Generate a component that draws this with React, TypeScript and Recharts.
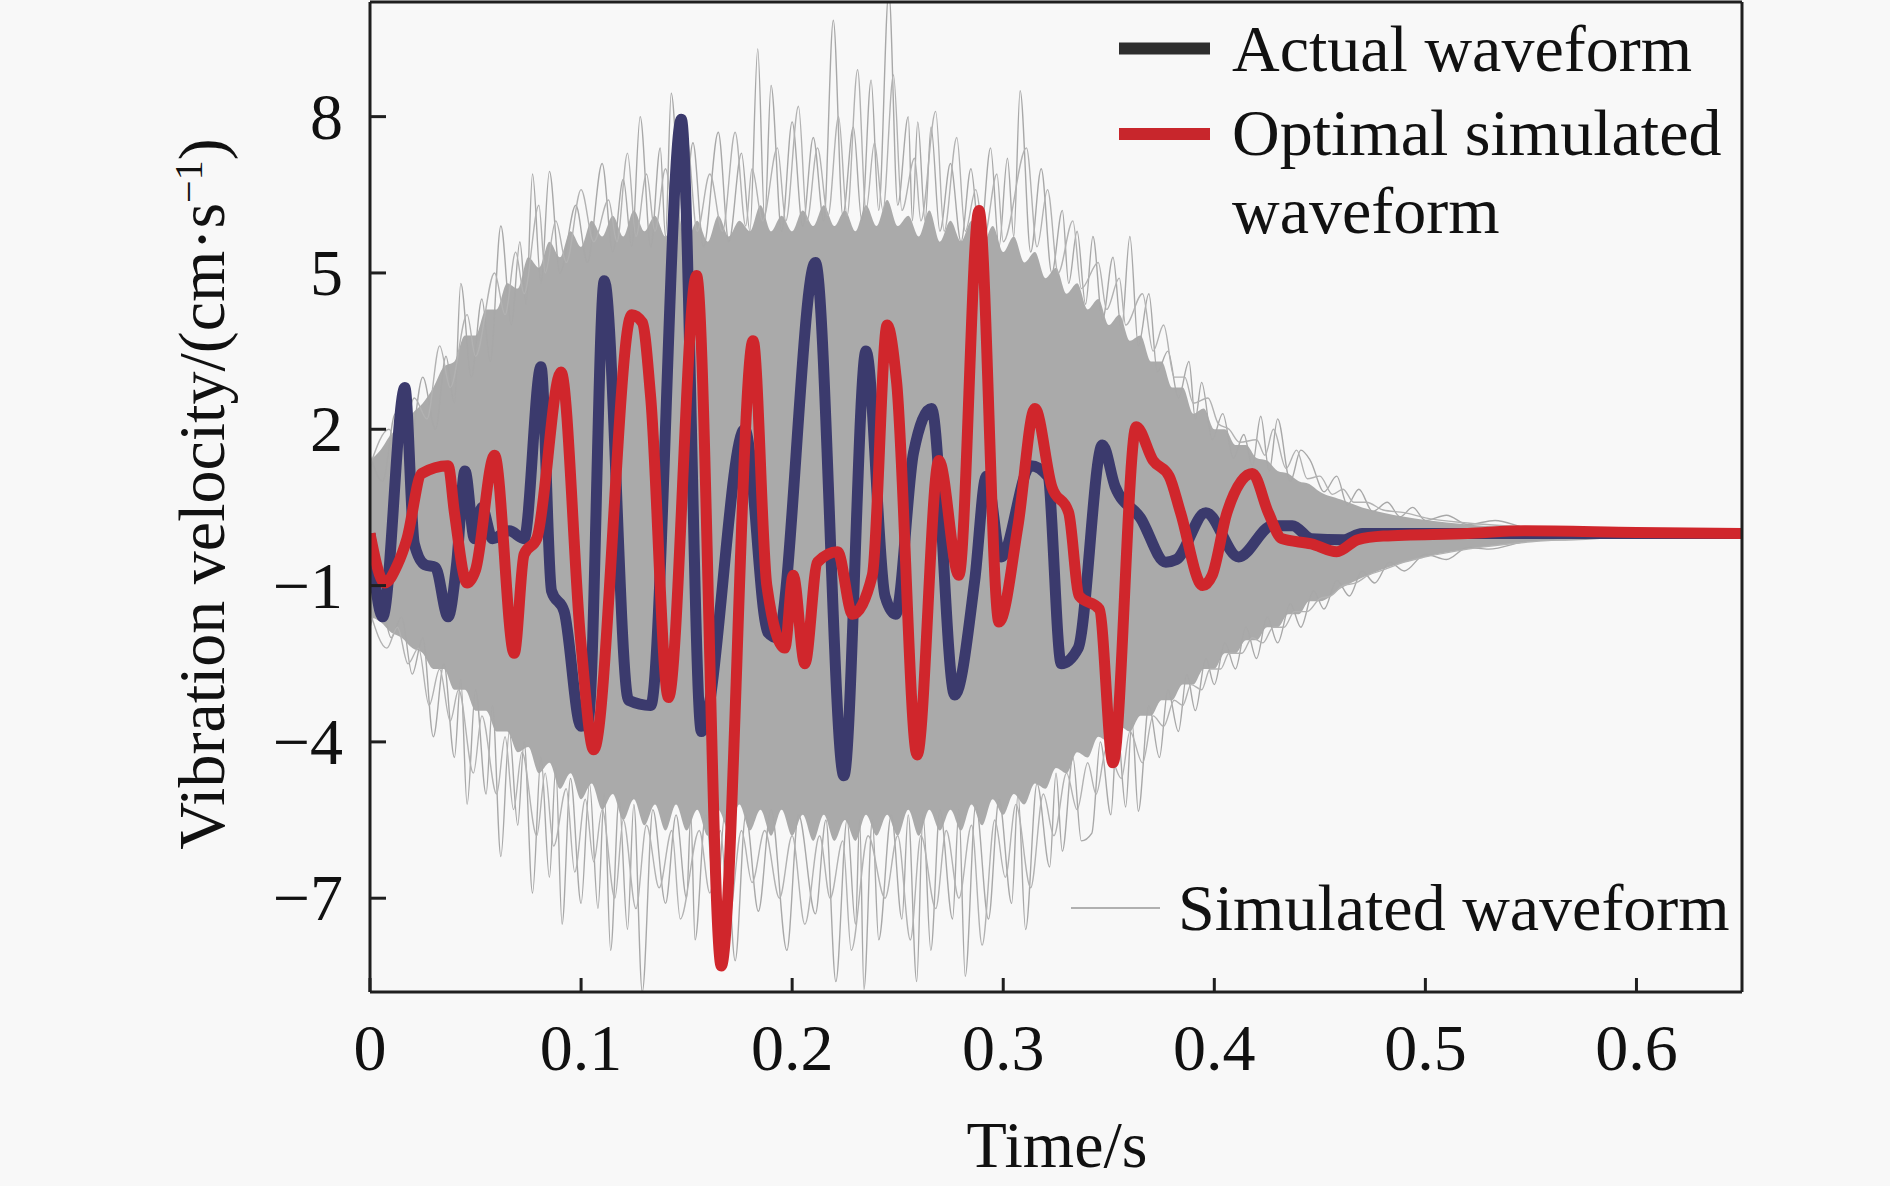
import React from 'react';
import { ComposedChart, Line, Area, XAxis, YAxis, ReferenceLine } from 'recharts';

const W = 1890;
const H = 1186;
const FONT = "'Liberation Serif', 'Times New Roman', serif";

// ---- axis ticks ----
const xTicks = [0, 0.1, 0.2, 0.3, 0.4, 0.5, 0.6];
const xTickLabels = ['0', '0.1', '0.2', '0.3', '0.4', '0.5', '0.6'];
const yTicks = [-7, -4, -1, 2, 5, 8];
const yTickLabels = ['\u22127', '\u22124', '\u22121', '2', '5', '8'];
const xDomain = [0, 0.65];
const yDomain = [-8.8, 10.2];

// ---- actual waveform [time s, velocity cm/s] ----
const actualWave: [number, number][] = [
  [0, 0], [0.006, -1.6], [0.0165, 2.8], [0.021, -0.2], [0.026, -0.6], [0.031, -0.65],
  [0.037, -1.6], [0.041, -0.6], [0.045, 1.2], [0.0495, -0.1], [0.053, 0.5], [0.058, -0.1],
  [0.066, 0.05], [0.073, -0.1], [0.081, 3.2], [0.086, -1.1], [0.092, -1.5], [0.1, -3.7],
  [0.1035, -3.6], [0.111, 4.85], [0.1225, -3.2], [0.133, -3.3], [0.1475, 7.95], [0.157, -3.8],
  [0.1775, 2.0], [0.1885, -1.9], [0.193, -2.0], [0.211, 5.2], [0.2245, -4.65], [0.235, 3.5],
  [0.244, -1.2], [0.249, -1.55], [0.2575, 1.55], [0.266, 2.4], [0.277, -3.1], [0.2865, -0.9],
  [0.292, 1.1], [0.299, -0.45], [0.313, 1.3], [0.321, 1.1], [0.3275, -2.5], [0.3355, -2.2],
  [0.347, 1.7], [0.353, 0.9], [0.365, 0.3], [0.377, -0.55], [0.382, -0.5], [0.396, 0.4],
  [0.4115, -0.45], [0.4275, 0.15], [0.437, 0.15], [0.446, -0.1], [0.461, -0.12], [0.47, 0],
  [0.5, 0], [0.6, 0], [0.65, 0],
];

// ---- optimal simulated waveform ----
const optimalWave: [number, number][] = [
  [0, 0], [0.007, -0.95], [0.013, -0.6], [0.0175, -0.1], [0.0245, 1.15], [0.037, 1.3],
  [0.04, 0.4], [0.046, -0.95], [0.05, -0.7], [0.059, 1.5], [0.0683, -2.3], [0.073, -0.4],
  [0.079, -0.1], [0.0905, 3.1], [0.0998, -2.05], [0.106, -4.15], [0.124, 4.2], [0.129, 4.05],
  [0.133, 2.6], [0.1414, -3.15], [0.1547, 4.95], [0.1664, -8.3], [0.1815, 3.7], [0.188, -1.0],
  [0.1965, -2.2], [0.2005, -0.8], [0.206, -2.5], [0.212, -0.55], [0.2215, -0.35], [0.2286, -1.55],
  [0.238, -0.8], [0.245, 4.0], [0.2495, 2.9], [0.2592, -4.25], [0.2695, 1.4], [0.279, -0.8],
  [0.2885, 6.2], [0.298, -1.7], [0.307, 0.15], [0.315, 2.4], [0.323, 0.9], [0.331, 0.4],
  [0.336, -1.2], [0.3455, -1.45], [0.352, -4.4], [0.363, 2.05], [0.371, 1.4], [0.3786, 1.1],
  [0.384, 0.4], [0.3945, -1.0], [0.399, -0.8], [0.406, 0.4], [0.418, 1.15], [0.4256, 0.4],
  [0.432, -0.1], [0.446, -0.2], [0.458, -0.35], [0.468, -0.12], [0.48, -0.05], [0.52, 0],
  [0.547, 0.05], [0.6, 0.02], [0.65, 0],
];

// ---- simulated waveforms: dense core, upper edge ----
const bandUpper: [number, number][] = [
  [0, 1.4], [0.005, 1.6], [0.01, 1.9], [0.015, 2.0], [0.02, 2.3], [0.025, 2.5], [0.03, 2.8],
  [0.035, 3.2], [0.04, 3.3], [0.045, 3.8], [0.05, 3.8], [0.055, 4.3], [0.06, 4.3], [0.065, 4.8],
  [0.07, 4.7], [0.075, 5.3], [0.08, 5.1], [0.085, 5.6], [0.09, 5.3], [0.095, 5.8], [0.1, 5.5],
  [0.105, 6.0], [0.11, 5.7], [0.115, 6.1], [0.12, 5.7], [0.125, 6.2], [0.13, 5.8], [0.135, 6.1],
  [0.14, 5.7], [0.145, 6.2], [0.15, 5.6], [0.155, 6.0], [0.16, 5.6], [0.165, 6.1], [0.17, 5.7],
  [0.175, 6.0], [0.18, 5.8], [0.185, 6.3], [0.19, 5.8], [0.195, 6.1], [0.2, 5.8], [0.205, 6.2],
  [0.21, 5.9], [0.215, 6.3], [0.22, 5.9], [0.225, 6.2], [0.23, 5.8], [0.235, 6.3], [0.24, 5.9],
  [0.245, 6.4], [0.25, 5.9], [0.255, 6.1], [0.26, 5.7], [0.265, 6.2], [0.27, 5.6], [0.275, 6.0],
  [0.28, 5.6], [0.285, 6.0], [0.29, 5.5], [0.295, 5.9], [0.3, 5.4], [0.305, 5.7], [0.31, 5.2],
  [0.315, 5.4], [0.32, 4.9], [0.325, 5.1], [0.33, 4.6], [0.335, 4.8], [0.34, 4.3], [0.345, 4.5],
  [0.35, 4.0], [0.355, 4.2], [0.36, 3.7], [0.365, 3.8], [0.37, 3.3], [0.375, 3.3], [0.38, 2.8],
  [0.385, 2.8], [0.39, 2.3], [0.395, 2.4], [0.4, 2.0], [0.405, 2.0], [0.41, 1.7], [0.415, 1.7],
  [0.42, 1.45], [0.425, 1.4], [0.43, 1.2], [0.435, 1.15], [0.44, 1.0], [0.445, 0.95], [0.45, 0.8],
  [0.46, 0.65], [0.47, 0.5], [0.48, 0.4], [0.49, 0.32], [0.5, 0.26], [0.52, 0.17], [0.55, 0.1],
  [0.6, 0.04], [0.65, 0.02],
];

// ---- simulated waveforms: dense core, lower edge ----
const bandLower: [number, number][] = [
  [0, -1.6], [0.005, -1.7], [0.01, -1.9], [0.015, -2.0], [0.02, -2.2], [0.025, -2.3], [0.03, -2.6],
  [0.035, -2.6], [0.04, -3.0], [0.045, -3.0], [0.05, -3.4], [0.055, -3.4], [0.06, -3.8], [0.065, -3.8],
  [0.07, -4.2], [0.075, -4.1], [0.08, -4.6], [0.085, -4.4], [0.09, -4.9], [0.095, -4.6], [0.1, -5.1],
  [0.105, -4.8], [0.11, -5.3], [0.115, -5.0], [0.12, -5.5], [0.125, -5.1], [0.13, -5.6], [0.135, -5.2],
  [0.14, -5.7], [0.145, -5.2], [0.15, -5.7], [0.155, -5.3], [0.16, -5.8], [0.165, -5.3], [0.17, -5.7],
  [0.175, -5.2], [0.18, -5.7], [0.185, -5.3], [0.19, -5.8], [0.195, -5.3], [0.2, -5.8], [0.205, -5.4],
  [0.21, -5.9], [0.215, -5.4], [0.22, -5.9], [0.225, -5.5], [0.23, -5.9], [0.235, -5.4], [0.24, -5.8],
  [0.245, -5.4], [0.25, -5.8], [0.255, -5.3], [0.26, -5.8], [0.265, -5.3], [0.27, -5.7], [0.275, -5.3],
  [0.28, -5.7], [0.285, -5.2], [0.29, -5.6], [0.295, -5.1], [0.3, -5.4], [0.305, -5.0], [0.31, -5.2],
  [0.315, -4.8], [0.32, -4.9], [0.325, -4.5], [0.33, -4.6], [0.335, -4.2], [0.34, -4.3], [0.345, -3.9],
  [0.35, -4.0], [0.355, -3.7], [0.36, -3.8], [0.365, -3.5], [0.37, -3.5], [0.375, -3.2], [0.38, -3.2],
  [0.385, -2.9], [0.39, -2.9], [0.395, -2.6], [0.4, -2.6], [0.405, -2.3], [0.41, -2.3], [0.415, -2.05],
  [0.42, -2.05], [0.425, -1.8], [0.43, -1.8], [0.435, -1.55], [0.44, -1.55], [0.445, -1.3], [0.45, -1.3],
  [0.46, -1.05], [0.47, -0.85], [0.48, -0.68], [0.49, -0.55], [0.5, -0.45], [0.52, -0.3], [0.55, -0.16],
  [0.6, -0.06], [0.65, -0.02],
];

// ---- simulated waveforms: outer peaks, two traces ----
const upperSpikes: [number, number][] = [
  [0, 1.5], [0.006, 1.0], [0.012, 2.3], [0.018, 1.4], [0.025, 3.0], [0.031, 2.0], [0.036, 3.4],
  [0.04, 2.5], [0.043, 4.8], [0.048, 3.0], [0.053, 4.5], [0.057, 3.3], [0.062, 5.9], [0.067, 4.0],
  [0.071, 5.6], [0.074, 4.4], [0.077, 6.9], [0.081, 4.8], [0.085, 6.95], [0.09, 5.0], [0.0975, 6.3],
  [0.103, 5.2], [0.11, 7.1], [0.115, 5.4], [0.12, 6.8], [0.124, 5.5], [0.128, 8.0], [0.133, 5.5],
  [0.1375, 7.4], [0.14, 5.7], [0.1427, 8.45], [0.148, 5.6], [0.153, 7.5], [0.158, 5.5], [0.165, 7.7],
  [0.17, 5.6], [0.176, 7.3], [0.18, 5.8], [0.1837, 9.3], [0.187, 6.0], [0.19, 8.6], [0.195, 5.8],
  [0.2, 7.9], [0.205, 5.9], [0.21, 7.6], [0.215, 6.0], [0.2195, 9.85], [0.224, 6.1], [0.229, 7.8],
  [0.233, 6.0], [0.2374, 8.7], [0.241, 6.2], [0.2458, 10.4], [0.25, 6.3], [0.255, 8.0], [0.257, 6.0],
  [0.2595, 7.9], [0.263, 6.0], [0.2658, 7.8], [0.27, 5.8], [0.275, 7.1], [0.28, 5.6], [0.2847, 7.0],
  [0.289, 5.6], [0.294, 7.4], [0.298, 5.5], [0.302, 7.2], [0.305, 5.7], [0.308, 8.5], [0.313, 5.4],
  [0.318, 7.0], [0.323, 5.0], [0.328, 6.2], [0.331, 4.8], [0.335, 5.8], [0.339, 4.4], [0.3425, 5.7],
  [0.347, 4.1], [0.352, 5.3], [0.356, 3.9], [0.36, 5.7], [0.364, 3.6], [0.369, 4.6], [0.373, 3.1],
  [0.378, 3.5], [0.383, 2.6], [0.388, 3.3], [0.391, 2.2], [0.394, 2.9], [0.399, 1.8], [0.404, 2.3],
  [0.409, 1.45], [0.414, 1.9], [0.418, 1.3], [0.422, 2.25], [0.426, 1.2], [0.43, 2.2], [0.436, 1.0],
  [0.441, 1.6], [0.4455, 1.4], [0.452, 0.8], [0.458, 1.1], [0.463, 0.55], [0.4685, 0.85], [0.475, 0.42],
  [0.482, 0.6], [0.488, 0.32], [0.494, 0.5], [0.5, 0.25], [0.51, 0.35], [0.52, 0.17], [0.533, 0.25],
  [0.55, 0.1], [0.57, 0.1], [0.6, 0.04], [0.65, 0.02],
];

const upperSpikes2: [number, number][] = [
  [0, 1.3], [0.009, 2.0], [0.014, 1.6], [0.021, 2.6], [0.027, 2.2], [0.033, 3.6], [0.038, 2.8],
  [0.046, 4.2], [0.05, 3.4], [0.059, 5.0], [0.064, 4.2], [0.069, 5.4], [0.073, 4.6], [0.08, 6.3],
  [0.083, 5.0], [0.088, 6.0], [0.093, 5.2], [0.1, 6.6], [0.106, 5.6], [0.113, 6.4], [0.117, 5.6],
  [0.122, 7.3], [0.126, 5.7], [0.131, 6.9], [0.135, 5.8], [0.14, 7.0], [0.145, 5.8], [0.15, 7.6],
  [0.155, 5.8], [0.161, 6.9], [0.167, 5.8], [0.173, 7.7], [0.178, 5.9], [0.181, 7.0], [0.186, 6.0],
  [0.193, 7.4], [0.197, 6.0], [0.203, 8.2], [0.207, 6.0], [0.212, 7.4], [0.217, 6.1], [0.222, 8.0],
  [0.226, 6.1], [0.231, 8.9], [0.235, 6.2], [0.239, 7.5], [0.243, 6.2], [0.248, 8.8], [0.252, 6.2],
  [0.258, 7.2], [0.261, 6.0], [0.268, 8.1], [0.272, 5.8], [0.278, 7.6], [0.282, 5.8], [0.287, 6.6],
  [0.291, 5.7], [0.297, 6.9], [0.3, 5.6], [0.311, 7.4], [0.316, 5.5], [0.321, 6.6], [0.326, 5.0],
  [0.333, 6.0], [0.337, 4.7], [0.345, 5.2], [0.349, 4.3], [0.355, 4.9], [0.358, 4.0], [0.366, 4.6],
  [0.371, 3.5], [0.376, 4.0], [0.381, 3.0], [0.386, 3.0], [0.39, 2.5], [0.397, 2.6], [0.402, 2.1],
  [0.407, 2.0], [0.412, 1.75], [0.42, 1.8], [0.424, 1.5], [0.428, 2.0], [0.434, 1.25], [0.439, 1.6],
  [0.444, 1.05], [0.45, 1.1], [0.456, 0.75], [0.461, 0.85], [0.466, 0.6], [0.472, 0.6], [0.48, 0.45],
  [0.49, 0.4], [0.5, 0.3], [0.52, 0.2], [0.55, 0.12], [0.6, 0.05], [0.65, 0.02],
];

// ---- simulated waveforms: outer troughs, two traces ----
const lowerSpikes: [number, number][] = [
  [0, -1.8], [0.005, -1.3], [0.01, -2.0], [0.015, -1.6], [0.02, -2.7], [0.025, -2.0], [0.03, -3.9],
  [0.035, -2.5], [0.04, -4.3], [0.043, -2.8], [0.046, -5.2], [0.05, -3.0], [0.055, -5.0], [0.058, -3.3],
  [0.062, -6.2], [0.066, -3.8], [0.07, -5.6], [0.073, -4.0], [0.077, -6.9], [0.081, -4.3], [0.085, -6.6],
  [0.088, -4.5], [0.091, -7.5], [0.095, -4.7], [0.1, -7.1], [0.104, -4.8], [0.108, -7.2], [0.111, -5.0],
  [0.114, -8.0], [0.118, -5.1], [0.122, -7.6], [0.125, -5.2], [0.129, -8.8], [0.134, -5.3], [0.14, -7.1],
  [0.145, -5.4], [0.15, -7.0], [0.152, -5.4], [0.154, -7.8], [0.159, -5.4], [0.164, -7.3], [0.168, -5.4],
  [0.173, -8.2], [0.178, -5.4], [0.184, -7.25], [0.19, -5.3], [0.1975, -8.0], [0.203, -5.4], [0.211, -7.3],
  [0.216, -5.5], [0.2207, -8.6], [0.226, -5.5], [0.23, -7.5], [0.232, -5.5], [0.234, -8.75], [0.238, -5.5],
  [0.241, -7.8], [0.247, -5.4], [0.252, -7.4], [0.255, -5.4], [0.259, -8.6], [0.262, -5.4], [0.2657, -8.0],
  [0.27, -5.3], [0.276, -7.4], [0.279, -5.3], [0.282, -8.5], [0.287, -5.2], [0.293, -7.4], [0.298, -5.1],
  [0.304, -7.1], [0.307, -5.0], [0.3106, -7.6], [0.316, -4.8], [0.322, -6.4], [0.325, -4.6], [0.328, -6.1],
  [0.333, -4.3], [0.337, -5.9], [0.342, -5.75], [0.346, -4.0], [0.351, -5.4], [0.354, -3.7], [0.358, -5.25],
  [0.361, -3.6], [0.364, -5.33], [0.369, -3.3], [0.374, -4.3], [0.378, -3.0], [0.383, -3.8], [0.387, -2.7],
  [0.391, -3.4], [0.396, -2.4], [0.4, -2.9], [0.405, -2.1], [0.41, -2.6], [0.415, -1.8], [0.42, -2.4],
  [0.425, -1.6], [0.43, -2.1], [0.436, -1.35], [0.441, -1.8], [0.447, -1.1], [0.452, -1.45], [0.458, -0.9],
  [0.464, -1.2], [0.47, -0.72], [0.476, -0.95], [0.483, -0.55], [0.49, -0.72], [0.5, -0.4], [0.51, -0.5],
  [0.52, -0.27], [0.53, -0.3], [0.55, -0.14], [0.57, -0.12], [0.6, -0.05], [0.65, -0.02],
];

const lowerSpikes2: [number, number][] = [
  [0, -1.5], [0.008, -2.2], [0.013, -1.8], [0.018, -2.5], [0.023, -2.2], [0.028, -3.3], [0.033, -2.6],
  [0.038, -3.6], [0.042, -3.0], [0.049, -4.6], [0.053, -3.5], [0.06, -5.0], [0.064, -3.9], [0.068, -5.3],
  [0.072, -4.2], [0.079, -5.8], [0.083, -4.6], [0.087, -6.0], [0.093, -4.9], [0.097, -6.5], [0.102, -5.1],
  [0.106, -6.3], [0.11, -5.3], [0.116, -7.0], [0.12, -5.5], [0.126, -7.2], [0.131, -5.6], [0.137, -6.8],
  [0.143, -5.7], [0.147, -7.4], [0.156, -5.7], [0.161, -6.9], [0.166, -5.7], [0.17, -7.4], [0.176, -5.7],
  [0.181, -6.7], [0.187, -5.7], [0.194, -7.0], [0.2, -5.8], [0.206, -7.5], [0.213, -5.8], [0.218, -7.0],
  [0.224, -5.9], [0.228, -8.0], [0.236, -5.8], [0.244, -7.0], [0.25, -5.8], [0.256, -7.8], [0.261, -5.8],
  [0.268, -7.2], [0.273, -5.7], [0.279, -7.0], [0.285, -5.6], [0.29, -7.9], [0.296, -5.5], [0.301, -6.6],
  [0.306, -5.2], [0.313, -6.8], [0.319, -5.0], [0.324, -5.8], [0.33, -4.6], [0.335, -5.3], [0.34, -4.4],
  [0.344, -5.0], [0.349, -4.1], [0.356, -4.7], [0.36, -3.8], [0.366, -4.4], [0.371, -3.5], [0.376, -3.7],
  [0.381, -3.2], [0.385, -3.3], [0.389, -2.9], [0.394, -3.0], [0.398, -2.6], [0.403, -2.6], [0.407, -2.3],
  [0.413, -2.3], [0.418, -2.0], [0.423, -2.1], [0.428, -1.8], [0.433, -1.8], [0.438, -1.5], [0.444, -1.5],
  [0.45, -1.25], [0.455, -1.2], [0.461, -1.0], [0.467, -0.95], [0.473, -0.8], [0.48, -0.7], [0.49, -0.55],
  [0.5, -0.45], [0.52, -0.3], [0.55, -0.16], [0.6, -0.06], [0.65, -0.02],
];

const toPoints = (arr: [number, number][]) => arr.map(([t, v]) => ({ t, v }));
const actualData = toPoints(actualWave);
const optimalData = toPoints(optimalWave);
const spikeSeries = [upperSpikes, upperSpikes2, lowerSpikes, lowerSpikes2].map(toPoints);
const bandData = bandUpper.map(([t, hi], i) => ({ t, band: [bandLower[i][1], hi] }));

const AXIS_COLOR = '#1f1f1f';
const FS = 66;

const YTick = (props: any) => {
  const { x, y, payload } = props;
  const idx = yTicks.indexOf(payload.value);
  return (
    <g>
      <line x1={x} x2={x + 16} y1={y} y2={y} stroke={AXIS_COLOR} strokeWidth={3} />
      <text x={x - 27} y={y + 22} textAnchor="end" fontFamily={FONT} fontSize={FS} fill="#111">
        {idx >= 0 ? yTickLabels[idx] : String(payload.value)}
      </text>
    </g>
  );
};

const XTick = (props: any) => {
  const { x, y, payload } = props;
  const idx = xTicks.indexOf(payload.value);
  return (
    <g>
      <line x1={x} x2={x} y1={y} y2={y - 14} stroke={AXIS_COLOR} strokeWidth={3} />
      <text x={x} y={y + 78} textAnchor="middle" fontFamily={FONT} fontSize={FS} fill="#111">
        {idx >= 0 ? xTickLabels[idx] : String(payload.value)}
      </text>
    </g>
  );
};

export default function App() {
  return (
    <div style={{ position: 'absolute', left: 0, top: 0, width: W, height: H, background: '#f8f8f8' }}>
      <ComposedChart width={W} height={H} margin={{ top: 2, right: 148, bottom: 94, left: 120 }}>
        <XAxis
          xAxisId="b"
          dataKey="t"
          type="number"
          domain={xDomain}
          ticks={xTicks}
          interval={0}
          allowDataOverflow
          height={100}
          tickSize={0}
          tickMargin={0}
          tickLine={false}
          axisLine={{ stroke: AXIS_COLOR, strokeWidth: 3 }}
          tick={<XTick />}
        />
        <YAxis
          yAxisId="l"
          type="number"
          domain={yDomain}
          ticks={yTicks}
          interval={0}
          allowDataOverflow
          width={250}
          tickSize={0}
          tickMargin={0}
          tickLine={false}
          axisLine={{ stroke: AXIS_COLOR, strokeWidth: 3 }}
          tick={<YTick />}
        />
        <Area
          xAxisId="b"
          yAxisId="l"
          data={bandData}
          dataKey="band"
          type="monotone"
          fill="#aaaaaa"
          fillOpacity={1}
          stroke="none"
          isAnimationActive={false}
        />
        {spikeSeries.map((d, i) => (
          <Line
            key={'s' + i}
            xAxisId="b"
            yAxisId="l"
            data={d}
            dataKey="v"
            type="monotone"
            stroke={i % 2 === 0 ? '#a8a8a8' : '#b2b2b2'}
            strokeWidth={1.4}
            dot={false}
            isAnimationActive={false}
          />
        ))}
        <Line
          xAxisId="b"
          yAxisId="l"
          data={actualData}
          dataKey="v"
          type="monotone"
          stroke="#3b3a6d"
          strokeWidth={11}
          strokeLinejoin="round"
          dot={false}
          isAnimationActive={false}
        />
        <Line
          xAxisId="b"
          yAxisId="l"
          data={optimalData}
          dataKey="v"
          type="monotone"
          stroke="#d0262c"
          strokeWidth={11}
          strokeLinejoin="round"
          dot={false}
          isAnimationActive={false}
        />
        <ReferenceLine xAxisId="b" yAxisId="l" y={yDomain[1]} stroke={AXIS_COLOR} strokeWidth={3} />
        <ReferenceLine xAxisId="b" yAxisId="l" x={xDomain[1]} stroke={AXIS_COLOR} strokeWidth={3} />
      </ComposedChart>
      <svg
        width={W}
        height={H}
        style={{ position: 'absolute', left: 0, top: 0, pointerEvents: 'none' }}
      >
        <text
          x={224}
          y={494}
          transform="rotate(-90, 224, 494)"
          textAnchor="middle"
          fontFamily={FONT}
          fontSize={FS}
          fill="#111"
        >
          Vibration velocity/(cm·s
          <tspan dy={-22} fontSize={40}>{'\u22121'}</tspan>
          <tspan dy={22}>)</tspan>
        </text>
        <text x={1057} y={1167} textAnchor="middle" fontFamily={FONT} fontSize={FS} fill="#111">
          Time/s
        </text>
        <line x1={1119} x2={1210} y1={48.5} y2={48.5} stroke="#2e2e2e" strokeWidth={12} />
        <text x={1232} y={71} fontFamily={FONT} fontSize={FS} fill="#111">Actual waveform</text>
        <line x1={1119} x2={1210} y1={134} y2={134} stroke="#c8262c" strokeWidth={12} />
        <text x={1232} y={155} fontFamily={FONT} fontSize={FS} fill="#111">Optimal simulated</text>
        <text x={1232} y={233} fontFamily={FONT} fontSize={FS} fill="#111">waveform</text>
        <line x1={1071} x2={1160} y1={908} y2={908} stroke="#b0b0b0" strokeWidth={2} />
        <text x={1178} y={930} fontFamily={FONT} fontSize={FS} fill="#111">Simulated waveform</text>
      </svg>
    </div>
  );
}
